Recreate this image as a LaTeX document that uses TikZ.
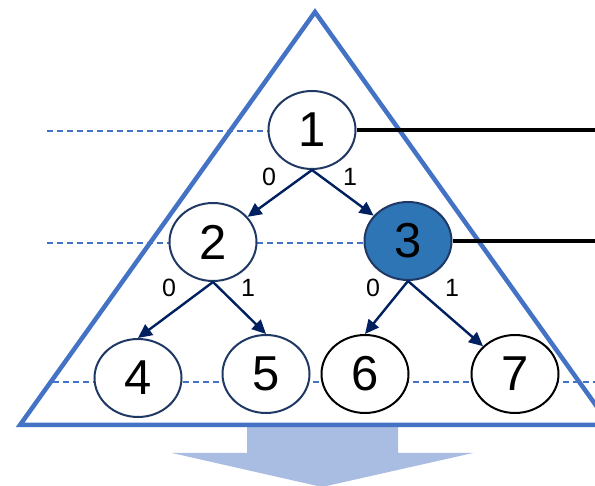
\documentclass[tikz,border=0pt]{standalone}
\usepackage{fontspec}
\setmainfont{Liberation Sans}
\usetikzlibrary{arrows.meta,shapes.geometric}
\definecolor{triblue}{RGB}{68,114,196}
\definecolor{navy}{RGB}{0,32,96}
\definecolor{rimnavy}{RGB}{31,56,100}
\definecolor{fillblue}{RGB}{46,117,182}
\definecolor{arrowblue}{RGB}{169,189,227}
\tikzset{
  treenode/.style={ellipse, draw=rimnavy, line width=2pt, fill=white,
    minimum width=87pt, minimum height=78pt, inner sep=0pt,
    font=\fontsize{49}{49}\selectfont},
  blacknode/.style={treenode, draw=black},
  edge/.style={draw=navy, line width=2.4pt, -{Triangle[length=14pt,width=13pt]}},
  elabel/.style={font=\fontsize{25}{25}\selectfont, inner sep=0pt},
  guide/.style={draw=triblue, line width=1.2pt, dash pattern=on 6pt off 4pt},
  link/.style={draw=black, line width=4.2pt},
  tri/.style={draw=triblue, line width=4.5pt, line join=miter},
}
\begin{document}
\begin{tikzpicture}[x=1pt,y=-1pt]
\clip (0,0) rectangle (595,486);
\fill[white] (0,0) rectangle (595,486);
% big down arrow
\fill[arrowblue] (247,427) -- (398,427) -- (398,453) -- (473,453) -- (322,487)
  -- (172,453) -- (247,453) -- cycle;
% triangle
\draw[tri] (20,425) -- (315,12) -- (610,425) -- cycle;
% guide coordinates
\coordinate (g1) at (47,131);
\coordinate (g1r) at (300,131);
\coordinate (g2) at (47,243);
\coordinate (g2r) at (400,243);
\coordinate (g3) at (53,382);
\coordinate (g3r) at (600,382);
\coordinate (e1) at (600,130);
\coordinate (e3) at (600,241);
\draw[guide] (g1) -- (g1r);
\draw[guide] (g2) -- (g2r);
\draw[guide] (g3) -- (g3r);
% nodes
\node[treenode] (n1) at (312,130) {1};
\node[treenode] (n2) at (213,242) {2};
\node[treenode, fill=fillblue] (n3) at (408,241) {3};
\node[treenode] (n4) at (138,378) {4};
\node[treenode] (n5) at (266,374) {5};
\node[blacknode] (n6) at (365,374) {6};
\node[blacknode] (n7) at (515,374) {7};
% links to the right
\draw[link] (n1.east) -- (e1);
\draw[link] (n3.east) -- (e3);
% edges
\draw[edge] (n1.south) -- (n2);
\draw[edge] (n1.south) -- (n3);
\draw[edge] (n2.south) -- (n4.north);
\draw[edge] (n2.south) -- (n5.north);
\draw[edge] (n3.south) -- (n6.north);
\draw[edge] (n3.south) -- (n7);
% edge labels
\node[elabel] (l10) at (269,177) {0};
\node[elabel] (l11) at (350,177) {1};
\node[elabel] (l20) at (169,288) {0};
\node[elabel] (l21) at (248,288) {1};
\node[elabel] (l30) at (373,288) {0};
\node[elabel] (l31) at (452,288) {1};
\end{tikzpicture}
\end{document}
